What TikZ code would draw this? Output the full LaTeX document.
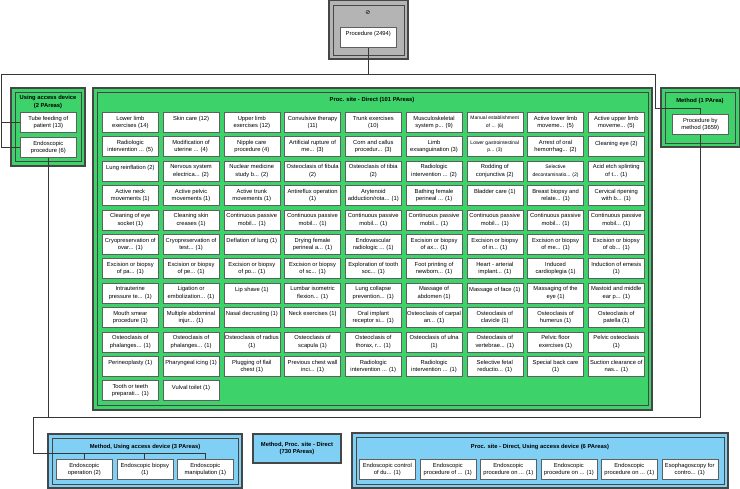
\documentclass[tikz,border=0pt]{standalone}
\usepackage{fontspec}
\setmainfont{Liberation Sans}
\newfontfamily\dejavu{DejaVu Sans}
\usepackage{tikz}
\usetikzlibrary{positioning}
\definecolor{pgreen}{RGB}{61,211,106}
\definecolor{pblue}{RGB}{128,208,246}
\definecolor{pgray}{RGB}{180,180,180}
\definecolor{grpline}{RGB}{70,70,70}
\definecolor{boxline}{RGB}{95,95,95}
\definecolor{connline}{RGB}{55,55,55}
\newcommand\boxfont{\fontsize{5.8}{7.4}\selectfont}
\newcommand\smallfnt{\fontsize{5}{7.4}\selectfont}
\newcommand\titlefont{\bfseries\fontsize{5.8}{7.4}\selectfont}
\newcommand\tdots{...}
\tikzstyle{parea} = [draw=boxline, fill=white, line width=0.6pt, minimum width=56pt, 
minimum height=20pt, inner sep=1pt, align=center, anchor=north west, font=\boxfont]
\tikzstyle{grpout} = [draw=grpline, line width=1.1pt]
\tikzstyle{grpin} = [draw=grpline, line width=0.5pt]
\tikzstyle{grptitle} = [font=\titlefont, align=center, inner sep=0pt]
\tikzstyle{conn} = [draw=connline, line width=0.8pt]
\begin{document}
\begin{tikzpicture}[x=1pt, y=-1pt]
\useasboundingbox (0,0) rectangle (740,489);
\draw[grpout, fill=pgray] (329,0.6) rectangle (408,59);
\draw[grpin] (333,5) rectangle (404,55);
\node[font=\dejavu\fontsize{6}{6}\selectfont, inner sep=0pt] (nul) at (368,13) {⊘};
\node[parea] (root) at (340,27) {Procedure (2494)\\~};
\draw[grpout, fill=pgreen] (11,88) rectangle (85,166);
\draw[grpin] (15,92) rectangle (81,161);
\node[grptitle] (uadt) at (48,102) {Using access device\\(2 PAreas)};
\node[parea] (tube) at (20,112) {Tube feeding of\\patient (13)};
\node[parea] (endo) at (20,137) {Endoscopic\\procedure (6)};
\draw[grpout, fill=pgreen] (93,88) rectangle (652,410);
\draw[grpin] (97,92) rectangle (648,405);
\node[grptitle] (psdt) at (372,100) {Proc. site - Direct (101 PAreas)};
\foreach \t [count=\i from 0] in {
{Lower limb\\exercises (14)}, {Skin care (12)\\~}, {Upper limb\\exercises (12)},
{Convulsive therapy\\(11)}, {Trunk exercises\\(10)}, {Musculoskeletal\\system p\tdots{} (9)},
{\smallfnt Manual establishment\\\smallfnt of \tdots{} (6)}, {Active lower limb\\moveme\tdots{} (5)},
{Active upper limb\\moveme\tdots{} (5)},
{Radiologic\\intervention \tdots{} (5)}, {Modification of\\uterine \tdots{} (4)}, {Nipple care\\procedure (4)},
{Artificial rupture of\\me\tdots{} (3)}, {Corn and callus\\procedur\tdots{} (3)}, {Limb\\exsanguination (3)},
{\smallfnt Lower gastrointestinal\\\smallfnt p\tdots{} (3)}, {Arrest of oral\\hemorrhag\tdots{} (2)},
{Cleaning eye (2)\\~},
{Lung reinflation (2)\\~}, {Nervous system\\electrica\tdots{} (2)}, {Nuclear medicine\\study b\tdots{} (2)},
{Osteoclasis of fibula\\(2)}, {Osteoclasis of tibia\\(2)}, {Radiologic\\intervention \tdots{} (2)},
{Rodding of\\conjunctiva (2)}, {\smallfnt Selective\\\smallfnt decontaminatio\tdots{} (2)},
{Acid etch splinting\\of t\tdots{} (1)},
{Active neck\\movements (1)}, {Active pelvic\\movements (1)}, {Active trunk\\movements (1)},
{Antireflux operation\\(1)}, {Arytenoid\\adduction/rota\tdots{} (1)}, {Bathing female\\perineal \tdots{} (1)},
{Bladder care (1)\\~}, {Breast biopsy and\\relate\tdots{} (1)}, {Cervical ripening\\with b\tdots{} (1)},
{Cleaning of eye\\socket (1)}, {Cleaning skin\\creases (1)}, {Continuous passive\\mobil\tdots{} (1)},
{Continuous passive\\mobil\tdots{} (1)}, {Continuous passive\\mobil\tdots{} (1)}, {Continuous passive\\mobil\tdots{} (1)},
{Continuous passive\\mobil\tdots{} (1)}, {Continuous passive\\mobil\tdots{} (1)}, {Continuous passive\\mobil\tdots{} (1)},
{Cryopreservation of\\ovar\tdots{} (1)}, {Cryopreservation of\\test\tdots{} (1)}, {Deflation of lung (1)\\~},
{Drying female\\perineal a\tdots{} (1)}, {Endovascular\\radiologic \tdots{} (1)}, {Excision or biopsy\\of ax\tdots{} (1)},
{Excision or biopsy\\of in\tdots{} (1)}, {Excision or biopsy\\of me\tdots{} (1)}, {Excision or biopsy\\of ob\tdots{} (1)},
{Excision or biopsy\\of pa\tdots{} (1)}, {Excision or biopsy\\of pe\tdots{} (1)}, {Excision or biopsy\\of po\tdots{} (1)},
{Excision or biopsy\\of sc\tdots{} (1)}, {Exploration of tooth\\soc\tdots{} (1)}, {Foot printing of\\newborn\tdots{} (1)},
{Heart - arterial\\implant\tdots{} (1)}, {Induced\\cardioplegia (1)}, {Induction of emesis\\(1)},
{Intrauterine\\pressure te\tdots{} (1)}, {Ligation or\\embolization\tdots{} (1)}, {Lip shave (1)\\~},
{Lumbar isometric\\flexion\tdots{} (1)}, {Lung collapse\\prevention\tdots{} (1)}, {Massage of\\abdomen (1)},
{Massage of face (1)\\~}, {Massaging of the\\eye (1)}, {Mastoid and middle\\ear p\tdots{} (1)},
{Mouth smear\\procedure (1)}, {Multiple abdominal\\injur\tdots{} (1)}, {Nasal decrusting (1)\\~},
{Neck exercises (1)\\~}, {Oral implant\\receptor si\tdots{} (1)}, {Osteoclasis of carpal\\an\tdots{} (1)},
{Osteoclasis of\\clavicle (1)}, {Osteoclasis of\\humerus (1)}, {Osteoclasis of\\patella (1)},
{Osteoclasis of\\phalanges\tdots{} (1)}, {Osteoclasis of\\phalanges\tdots{} (1)}, {Osteoclasis of radius\\(1)},
{Osteoclasis of\\scapula (1)}, {Osteoclasis of\\thorax, r\tdots{} (1)}, {Osteoclasis of ulna\\(1)},
{Osteoclasis of\\vertebrae\tdots{} (1)}, {Pelvic floor\\exercises (1)}, {Pelvic osteoclasis\\(1)},
{Perineoplasty (1)\\~}, {Pharyngeal icing (1)\\~}, {Plugging of flail\\chest (1)},
{Previous chest wall\\inci\tdots{} (1)}, {Radiologic\\intervention \tdots{} (1)}, {Radiologic\\intervention \tdots{} (1)},
{Selective fetal\\reductio\tdots{} (1)}, {Special back care\\(1)}, {Suction clearance of\\nas\tdots{} (1)},
{Tooth or teeth\\preparati\tdots{} (1)}, {Vulval toilet (1)\\~}} {
\pgfmathtruncatemacro{\cl}{mod(\i,9)}
\pgfmathtruncatemacro{\rw}{div(\i,9)}
\node[parea] (pa\i) at ({102+60.75*\cl},{112+24.4*\rw}) {\t};
}
\draw[grpout, fill=pgreen] (661,88) rectangle (739.4,147);
\draw[grpin] (665,92) rectangle (735.4,143);
\node[grptitle] (mt) at (700,101) {Method (1 PArea)};
\node[parea] (pbm) at (672,114) {Procedure by\\method (3659)};
\draw[grpout, fill=pblue] (48,434) rectangle (242,488);
\draw[grpin] (52,438) rectangle (238,484);
\node[grptitle] (muat) at (145,447) {Method, Using access device (3 PAreas)};
\node[parea] (mu1) at (56,459) {Endoscopic\\operation (2)};
\node[parea] (mu2) at (116.5,459) {Endoscopic biopsy\\(1)};
\node[parea] (mu3) at (177,459) {Endoscopic\\manipulation (1)};
\node[grpout, fill=pblue, minimum width=88pt, minimum height=29pt, font=\titlefont, 
align=center, inner sep=0pt] (mpd) at (297,448.5) {Method, Proc. site - Direct\\(730 PAreas)};
\draw[grpout, fill=pblue] (352,433) rectangle (728,488);
\draw[grpin] (356,437) rectangle (724,484);
\node[grptitle] (psut) at (540,447) {Proc. site - Direct, Using access device (6 PAreas)};
\node[parea] (pu1) at (359,459) {Endoscopic control\\of du... (1)};
\node[parea] (pu2) at (419.5,459) {Endoscopic\\procedure of ... (1)};
\node[parea] (pu3) at (480,459) {Endoscopic\\procedure on ... (1)};
\node[parea] (pu4) at (540.5,459) {Endoscopic\\procedure on ... (1)};
\node[parea] (pu5) at (601,459) {Endoscopic\\procedure on ... (1)};
\node[parea] (pu6) at (661.5,459) {Esophagoscopy for\\contro... (1)};
\coordinate (lbus) at (1,74);
\coordinate (rbus) at (655,74);
\coordinate (rbend) at (655,108);
\coordinate (bus) at (33,417);
\coordinate (kbus) at (33,453);
\draw[conn] (root.south) |- (lbus) |- (tube.west);
\draw[conn] (lbus) |- (endo.west);
\draw[conn] (root.south) |- (rbus) -- (rbend) -| (pbm.north);
\draw[conn] (endo.south) -- (endo.south |- bus);
\draw[conn] (pbm.south) -- (pbm.south |- bus) -- (bus) -- (kbus) -| (mu3.north);
\draw[conn] (mu1.north |- kbus) -- (mu1.north);
\draw[conn] (mu2.north |- kbus) -- (mu2.north);
\end{tikzpicture}
\end{document}
